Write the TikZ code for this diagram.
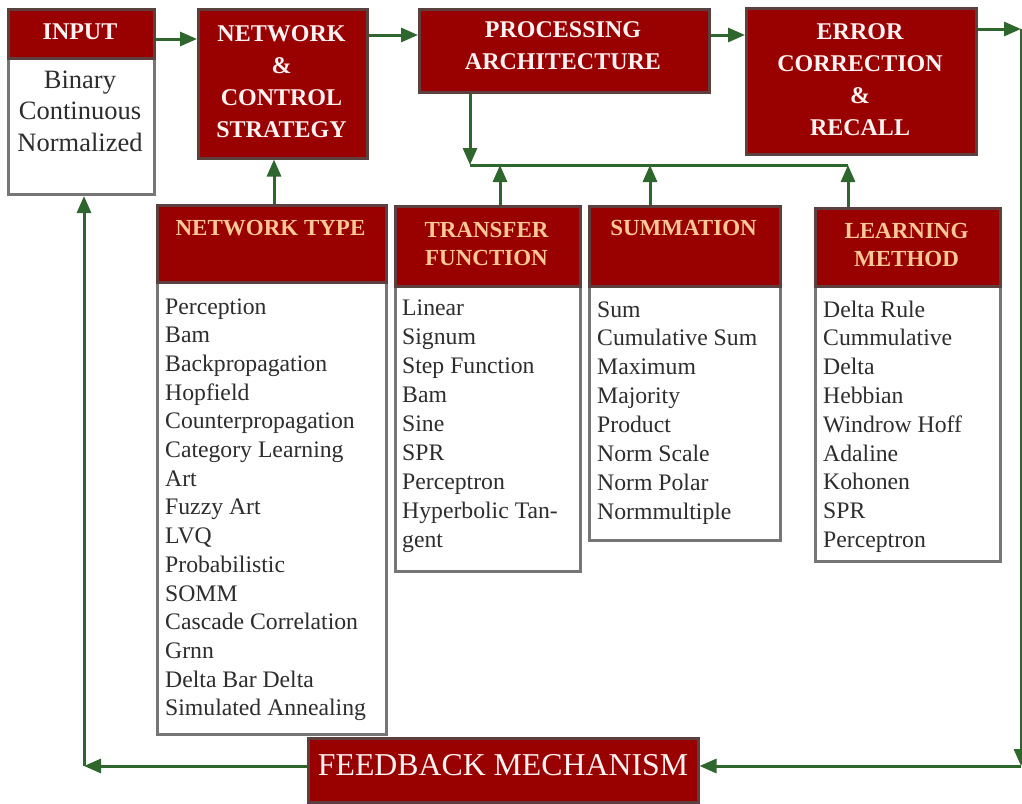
\documentclass[tikz,border=0pt]{standalone}
\usepackage{fontspec}
\setmainfont{Liberation Serif}
\usetikzlibrary{arrows.meta}
\definecolor{boxred}{RGB}{153,0,0}
\definecolor{edgegray}{RGB}{118,118,118}
\definecolor{edgedark}{RGB}{70,20,20}
\definecolor{linkgreen}{RGB}{46,102,46}
\definecolor{headpeach}{RGB}{250,200,150}
\definecolor{bodytext}{RGB}{45,45,45}
\definecolor{headwhite}{RGB}{255,242,242}

\begin{document}
\begin{tikzpicture}[x=1pt,y=-1pt,
  redbox/.style={draw=edgedark!55!edgegray, line width=2.5pt, fill=boxred, inner sep=0pt, anchor=north west},
  whitebox/.style={draw=edgegray, line width=3pt, fill=white, inner sep=0pt, anchor=north west},
  toptext/.style={text=headwhite, font=\bfseries\fontsize{24}{32}\selectfont, align=center, inner sep=0pt},
  subtext/.style={text=headpeach, font=\bfseries\fontsize{23}{28}\selectfont, align=center, inner sep=0pt},
  intext/.style={text=bodytext, font=\fontsize{26.5}{31.5}\selectfont, anchor=base, inner sep=0pt},
  item/.style={text=bodytext, font=\fontsize{23.7}{28.9}\selectfont, anchor=base west, inner sep=0pt},
  link/.style={draw=linkgreen, line width=3pt},
  arr/.style={link, -{Triangle[length=17pt,width=14pt]}},
]
\useasboundingbox (0,0) rectangle (1022,803);

% ---- top row ----
\node[whitebox, minimum width=146pt, minimum height=185pt] (input) at (7,8) {};
\node[redbox, minimum width=146pt, minimum height=49pt] (inhead) at (7,8) {};
\node[toptext] (inlabel) at (80,32) {INPUT};
\foreach \t [count=\i from 0] in {Binary,Continuous,Normalized}
  \node[intext] (in-\i) at (80,{88+\i*31.5}) {\t};

\node[redbox, minimum width=169pt, minimum height=149pt] (ncs) at (197,8) {};
\node[toptext] (ncslabel) at (281.5,81.5) {NETWORK\\ \&\\ CONTROL\\ STRATEGY};

\node[redbox, minimum width=290pt, minimum height=83pt] (pa) at (418,8) {};
\node[toptext] (palabel) at (563,45.5) {PROCESSING\\ ARCHITECTURE};

\node[redbox, minimum width=230pt, minimum height=146pt] (ecr) at (745,7) {};
\node[toptext] (ecrlabel) at (860,80) {ERROR\\ CORRECTION\\ \&\\ RECALL};

% ---- component lists ----
\node[whitebox, minimum width=229pt, minimum height=529pt] (nt) at (156,204) {};
\node[redbox, minimum width=229pt, minimum height=77pt] (nthead) at (156,204) {};
\node[subtext] (ntlabel) at (270.5,228) {NETWORK TYPE};
\foreach \t [count=\i from 0] in {Perception,Bam,Backpropagation,Hopfield,Counterpropagation,Category Learning,Art,Fuzzy Art,LVQ,Probabilistic,SOMM,Cascade Correlation,Grnn,Delta Bar Delta,Simulated Annealing}
  \node[item] (nt-\i) at (165,{314+\i*28.7}) {\t};

\node[whitebox, minimum width=185pt, minimum height=365pt] (tf) at (394,205) {};
\node[redbox, minimum width=185pt, minimum height=80pt] (tfhead) at (394,205) {};
\node[subtext] (tflabel) at (486.5,244) {TRANSFER\\ FUNCTION};
\foreach \t [count=\i from 0] in {Linear,Signum,Step Function,Bam,Sine,SPR,Perceptron,Hyperbolic Tan-,gent}
  \node[item] (tf-\i) at (402,{315+\i*29.1}) {\t};

\node[whitebox, minimum width=191pt, minimum height=334pt] (sum) at (588,205) {};
\node[redbox, minimum width=191pt, minimum height=80pt] (sumhead) at (588,205) {};
\node[subtext] (sumlabel) at (683.5,228) {SUMMATION};
\foreach \t [count=\i from 0] in {Sum,Cumulative Sum,Maximum,Majority,Product,Norm Scale,Norm Polar,Normmultiple}
  \node[item] (sum-\i) at (597,{317+\i*28.9}) {\t};

\node[whitebox, minimum width=185pt, minimum height=353pt] (lm) at (814,207) {};
\node[redbox, minimum width=185pt, minimum height=78pt] (lmhead) at (814,207) {};
\node[subtext] (lmlabel) at (906.5,245) {LEARNING\\ METHOD};
\foreach \t [count=\i from 0] in {Delta Rule,Cummulative,Delta,Hebbian,Windrow Hoff,Adaline,Kohonen,SPR,Perceptron}
  \node[item] (lm-\i) at (823,{317+\i*28.8}) {\t};

% ---- feedback ----
\node[redbox, minimum width=390pt, minimum height=64pt] (fb) at (307,737) {};
\node[text=headwhite, font=\fontsize{31.8}{36}\selectfont, inner sep=0pt] (fblabel) at (503,765) {FEEDBACK MECHANISM};

% ---- connectors ----
\coordinate (yA) at (0,39);
\coordinate (yB) at (0,35);
\coordinate (rtop) at (1021,29);
\coordinate (rbot) at (1021,766);
\coordinate (lbot) at (84,766);
\coordinate (bl) at (470,165);
\coordinate (br) at (848,165);
\coordinate (tfx) at (500,165);
\coordinate (smx) at (650,165);
\coordinate (ntx) at (274,0);

\draw[arr] (inhead.east |- yA) -- (ncs.west |- yA);
\draw[arr] (ncs.east |- yB) -- (pa.west |- yB);
\draw[arr] (pa.east |- yB) -- (ecr.west |- yB);
\draw[arr] (ecr.east |- rtop) -- (rtop);
\draw[arr] (rtop) -- (rbot);
\draw[arr] (rbot) -- (fb.east |- rbot);
\draw[arr] (fb.west |- lbot) -- (lbot);
\draw[arr] (lbot) -- (input.south -| lbot);

\draw[arr] (pa.south -| bl) -- (bl);
\draw[link] (bl) -- (br);
\draw[arr] (tfhead.north -| tfx) -- (tfx);
\draw[arr] (sumhead.north -| smx) -- (smx);
\draw[arr] (lmhead.north -| br) -- (br);
\draw[arr] (nthead.north -| ntx) -- (ncs.south -| ntx);
\end{tikzpicture}
\end{document}
